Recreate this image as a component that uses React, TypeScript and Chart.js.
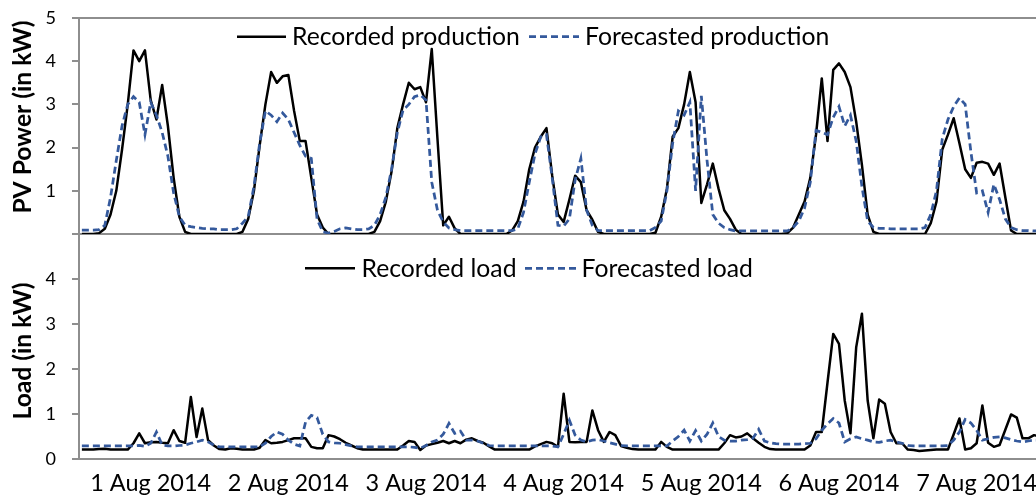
import React, { useEffect, useRef } from 'react';
import { Chart, registerables } from 'chart.js';

Chart.register(...registerables);

// ---------------- data ----------------
const DAY_LABELS = ['1 Aug 2014', '2 Aug 2014', '3 Aug 2014', '4 Aug 2014', '5 Aug 2014', '6 Aug 2014', '7 Aug 2014'];
const HOURS_PER_DAY = 24;
const CATEGORIES: string[] = DAY_LABELS.flatMap((d) =>
  Array.from({ length: HOURS_PER_DAY }, (_, h) => `${d} ${String(h).padStart(2, '0')}:00`)
);

const PV_RECORDED = [
  0, 0, 0, 0.02, 0.12, 0.45, 1.0, 1.95, 3.0, 4.25, 4.0, 4.25, 3.1, 2.65, 3.45, 2.5, 1.3, 0.4, 0.05, 0, 0, 0, 0, 0,
  0, 0, 0, 0, 0.05, 0.35, 1.0, 2.05, 3.0, 3.75, 3.5, 3.65, 3.68, 2.85, 2.15, 2.15, 1.3, 0.45, 0.15, 0, 0, 0, 0, 0,
  0, 0, 0, 0.05, 0.3, 0.75, 1.45, 2.45, 3.0, 3.5, 3.35, 3.4, 3.05, 4.28, 2.2, 0.2, 0.4, 0.13, 0, 0, 0, 0, 0, 0,
  0, 0, 0, 0.08, 0.3, 0.75, 1.5, 2.0, 2.25, 2.45, 1.35, 0.45, 0.28, 0.8, 1.35, 1.2, 0.55, 0.33, 0.05, 0, 0, 0, 0, 0,
  0, 0, 0, 0, 0.03, 0.4, 1.05, 2.25, 2.45, 3.0, 3.75, 3.05, 0.72, 1.15, 1.63, 1.05, 0.55, 0.35, 0.1, 0, 0, 0, 0, 0,
  0, 0, 0, 0.02, 0.15, 0.45, 0.75, 1.3, 2.3, 3.6, 2.15, 3.8, 3.95, 3.75, 3.4, 2.6, 1.6, 0.45, 0.05, 0, 0, 0, 0, 0,
  0, 0, 0, 0, 0.25, 0.75, 1.95, 2.3, 2.68, 2.1, 1.5, 1.3, 1.65, 1.67, 1.63, 1.37, 1.63, 0.85, 0.08, 0, 0, 0, 0, 0,
];

const PV_FORECAST = [
  0.09, 0.09, 0.09, 0.1, 0.2, 0.85, 1.7, 2.5, 3.0, 3.18, 3.05, 2.3, 3.05, 2.75, 2.35, 1.8, 0.95, 0.4, 0.2, 0.17, 0.15, 0.13, 0.12, 0.12,
  0.1, 0.1, 0.1, 0.12, 0.25, 0.4, 1.1, 2.1, 2.85, 2.75, 2.6, 2.8, 2.65, 2.35, 2.05, 1.8, 1.75, 0.35, 0.05, 0.02, 0.06, 0.12, 0.14, 0.12,
  0.1, 0.1, 0.12, 0.2, 0.45, 0.85, 1.5, 2.35, 2.87, 3.0, 3.18, 3.22, 3.1, 1.2, 0.55, 0.28, 0.14, 0.1, 0.08, 0.08, 0.08, 0.08, 0.08, 0.08,
  0.08, 0.08, 0.08, 0.08, 0.12, 0.5, 1.2, 1.85, 2.25, 2.3, 1.3, 0.2, 0.18, 0.35, 1.25, 1.75, 0.55, 0.2, 0.08, 0.08, 0.08, 0.08, 0.08, 0.08,
  0.08, 0.08, 0.08, 0.08, 0.15, 0.3, 1.0, 2.1, 2.85, 2.75, 3.05, 1.0, 3.2, 1.7, 0.45, 0.25, 0.15, 0.1, 0.07, 0.07, 0.07, 0.07, 0.07, 0.07,
  0.07, 0.07, 0.07, 0.07, 0.15, 0.3, 0.6, 1.2, 2.4, 2.35, 2.3, 2.7, 2.95, 2.5, 2.75, 2.15, 1.1, 0.3, 0.15, 0.13, 0.13, 0.12, 0.12, 0.12,
  0.12, 0.12, 0.12, 0.15, 0.45, 1.0, 2.2, 2.65, 2.95, 3.15, 3.0, 1.9, 0.95, 1.0, 0.5, 1.15, 0.8, 0.35, 0.15, 0.1, 0.08, 0.08, 0.07, 0.07,
];

const LOAD_RECORDED = [
  0.21, 0.21, 0.21, 0.22, 0.23, 0.21, 0.21, 0.21, 0.21, 0.35, 0.57, 0.35, 0.37, 0.38, 0.36, 0.35, 0.64, 0.4, 0.36, 1.38, 0.49, 1.12, 0.42, 0.3,
  0.22, 0.21, 0.24, 0.23, 0.21, 0.21, 0.21, 0.25, 0.42, 0.35, 0.36, 0.38, 0.42, 0.46, 0.46, 0.46, 0.27, 0.24, 0.24, 0.53, 0.5, 0.44, 0.36, 0.3,
  0.24, 0.21, 0.21, 0.21, 0.21, 0.21, 0.21, 0.21, 0.3, 0.4, 0.38, 0.2, 0.3, 0.33, 0.36, 0.4, 0.35, 0.4, 0.35, 0.43, 0.46, 0.4, 0.36, 0.28,
  0.21, 0.21, 0.21, 0.21, 0.21, 0.21, 0.21, 0.28, 0.33, 0.38, 0.35, 0.27, 1.45, 0.38, 0.37, 0.38, 0.38, 1.08, 0.64, 0.38, 0.6, 0.53, 0.29, 0.25,
  0.22, 0.21, 0.21, 0.21, 0.21, 0.38, 0.27, 0.21, 0.21, 0.21, 0.21, 0.21, 0.21, 0.21, 0.21, 0.21, 0.35, 0.53, 0.48, 0.5, 0.57, 0.46, 0.36, 0.27,
  0.22, 0.21, 0.21, 0.21, 0.21, 0.21, 0.21, 0.3, 0.6, 0.6, 1.7, 2.78, 2.56, 1.3, 0.57, 2.48, 3.23, 1.3, 0.46, 1.32, 1.23, 0.6, 0.35, 0.35,
  0.21, 0.2, 0.18, 0.19, 0.2, 0.21, 0.21, 0.21, 0.55, 0.9, 0.21, 0.24, 0.35, 1.19, 0.36, 0.27, 0.31, 0.65, 0.99, 0.92, 0.46, 0.46, 0.53, 0.5,
];

const LOAD_FORECAST = [
  0.29, 0.29, 0.29, 0.29, 0.29, 0.29, 0.29, 0.29, 0.29, 0.29, 0.3, 0.28, 0.35, 0.6, 0.31, 0.29, 0.29, 0.3, 0.31, 0.35, 0.38, 0.42, 0.38, 0.31,
  0.27, 0.27, 0.27, 0.27, 0.27, 0.27, 0.27, 0.27, 0.35, 0.5, 0.6, 0.55, 0.42, 0.33, 0.29, 0.82, 0.97, 0.92, 0.55, 0.38, 0.36, 0.35, 0.32, 0.29,
  0.27, 0.27, 0.27, 0.27, 0.27, 0.27, 0.27, 0.27, 0.27, 0.27, 0.26, 0.24, 0.3, 0.38, 0.42, 0.55, 0.79, 0.57, 0.62, 0.42, 0.42, 0.4, 0.35, 0.3,
  0.29, 0.29, 0.29, 0.29, 0.29, 0.29, 0.29, 0.29, 0.29, 0.29, 0.29, 0.27, 0.55, 0.86, 0.53, 0.42, 0.38, 0.42, 0.43, 0.4, 0.36, 0.33, 0.3, 0.29,
  0.29, 0.29, 0.29, 0.29, 0.29, 0.29, 0.29, 0.4, 0.5, 0.64, 0.4, 0.63, 0.4, 0.55, 0.8, 0.5, 0.42, 0.4, 0.4, 0.42, 0.43, 0.46, 0.66, 0.4,
  0.36, 0.34, 0.33, 0.33, 0.33, 0.33, 0.34, 0.35, 0.45, 0.64, 0.78, 0.9, 0.8, 0.38, 0.45, 0.49, 0.45, 0.42, 0.38, 0.37, 0.4, 0.42, 0.38, 0.35,
  0.3, 0.29, 0.29, 0.29, 0.29, 0.29, 0.29, 0.3, 0.42, 0.6, 0.88, 0.8, 0.64, 0.42, 0.45, 0.48, 0.49, 0.47, 0.43, 0.4, 0.38, 0.4, 0.42, 0.42,
];

const PV_SERIES_LABELS = ['Recorded production', 'Forecasted production'];
const LOAD_SERIES_LABELS = ['Recorded load', 'Forecasted load'];
const PV_TITLE = 'PV Power (in kW)';
const LOAD_TITLE = 'Load (in kW)';

// ---------------- style / layout ----------------
const FONT = 'Lato, "Liberation Sans", sans-serif';
const GRAY = '#8e8e8e';
const BLUE = '#34599c';
const CANVAS_W = 1050;
const AXIS_W = 79;
const PLOT_RIGHT = 1042.6;

function fitSize(text: string, width: number, weight = 'normal') {
  const c = document.createElement('canvas').getContext('2d')!;
  c.font = `${weight} 100px ${FONT}`;
  return (100 * width) / c.measureText(text).width;
}

type Overlay = {
  title: string;
  titleX: number;
  titleY: number;
  legendY: number;
  items: { ds: number; x0: number; x1: number; tx: number }[];
};

function overlayPlugin(spec: Overlay, titleSize: number, legendSize: number) {
  return {
    id: 'overlay',
    afterDraw(chart: any) {
      const ctx = chart.ctx as CanvasRenderingContext2D;
      ctx.save();
      ctx.translate(spec.titleX, spec.titleY);
      ctx.rotate(-Math.PI / 2);
      ctx.font = `bold ${titleSize}px ${FONT}`;
      ctx.fillStyle = '#000';
      ctx.textAlign = 'center';
      ctx.textBaseline = 'middle';
      ctx.fillText(spec.title, 0, 0);
      ctx.restore();
      spec.items.forEach((it) => {
        const ds = chart.data.datasets[it.ds];
        ctx.save();
        ctx.strokeStyle = ds.borderColor;
        ctx.lineWidth = ds.borderWidth;
        ctx.setLineDash(ds.borderDash || []);
        ctx.beginPath();
        ctx.moveTo(it.x0, spec.legendY);
        ctx.lineTo(it.x1, spec.legendY);
        ctx.stroke();
        ctx.setLineDash([]);
        ctx.font = `${legendSize}px ${FONT}`;
        ctx.fillStyle = '#000';
        ctx.textAlign = 'left';
        ctx.textBaseline = 'alphabetic';
        ctx.fillText(ds.label, it.tx, spec.legendY + 8.3);
        ctx.restore();
      });
    },
  };
}

function makeConfig(opts: {
  labels: string[];
  series: number[][];
  names: string[];
  padTop: number;
  xHeight: number;
  showX: boolean;
  hideTick: number;
  topLine: boolean;
  sizes: { tick: number; x: number; title: number; legend: number };
  overlay: Overlay;
}) {
  const { sizes } = opts;
  return {
    type: 'line' as const,
    data: {
      labels: opts.labels,
      datasets: [
        {
          label: opts.names[0],
          data: opts.series[0],
          borderColor: '#000',
          borderWidth: 2.5,
          pointRadius: 0,
          tension: 0,
          fill: false,
          borderJoinStyle: 'round' as const,
          order: 1,
        },
        {
          label: opts.names[1],
          data: opts.series[1],
          borderColor: BLUE,
          borderWidth: 2.75,
          borderDash: [7, 4],
          pointRadius: 0,
          tension: 0,
          fill: false,
          order: 0,
        },
      ],
    },
    options: {
      responsive: false,
      animation: false as const,
      devicePixelRatio: 1,
      layout: { autoPadding: false, padding: { left: 0, right: CANVAS_W - PLOT_RIGHT, top: opts.padTop, bottom: 0 } },
      plugins: { legend: { display: false }, tooltip: { enabled: false }, title: { display: false } },
      events: [],
      scales: {
        x: {
          type: 'category' as const,
          offset: true,
          grid: { display: false, drawTicks: false },
          border: { display: true, color: GRAY, width: 2 },
          ticks: {
            display: opts.showX,
            autoSkip: false,
            maxRotation: 0,
            minRotation: 0,
            padding: 10,
            color: '#000',
            font: { family: FONT, size: sizes.x },
            callback: (v: number) => DAY_LABELS[Math.floor(v / HOURS_PER_DAY)],
          },
          afterBuildTicks: (s: any) => {
            s.ticks = s.ticks.filter((t: any) => t.value % HOURS_PER_DAY === HOURS_PER_DAY / 2);
          },
          afterFit: (s: any) => {
            s.height = opts.xHeight;
            s.paddingLeft = 0;
            s.paddingRight = 0;
          },
        },
        y: {
          min: 0,
          max: 5,
          ticks: {
            stepSize: 1,
            padding: 16,
            color: '#000',
            font: { family: FONT, size: sizes.tick },
            callback: (v: number) => (v === opts.hideTick ? '' : String(v)),
          },
          grid: {
            drawOnChartArea: opts.topLine,
            color: (c: any) => (c.tick && c.tick.value === 5 ? GRAY : 'rgba(0,0,0,0)'),
            tickColor: GRAY,
            tickLength: 7,
            lineWidth: 2,
          },
          border: { display: true, color: GRAY, width: 2 },
          afterFit: (s: any) => {
            s.width = AXIS_W;
            s.paddingTop = 0;
            s.paddingBottom = 0;
          },
        },
      },
    },
    plugins: [overlayPlugin(opts.overlay, sizes.title, sizes.legend)],
  };
}

export default function App() {
  const topRef = useRef<HTMLCanvasElement>(null);
  const botRef = useRef<HTMLCanvasElement>(null);

  useEffect(() => {
    const sizes = {
      legend: fitSize(PV_SERIES_LABELS[0], 228),
      x: fitSize(DAY_LABELS[0], 121),
      title: fitSize(PV_TITLE, 193, 'bold'),
      tick: 0,
    };
    sizes.tick = sizes.x * 0.77;

    const top = new Chart(
      topRef.current!,
      makeConfig({
        labels: CATEGORIES,
        series: [PV_RECORDED, PV_FORECAST],
        names: PV_SERIES_LABELS,
        padTop: 18,
        xHeight: 6,
        showX: false,
        hideTick: 0,
        topLine: true,
        sizes,
        overlay: {
          title: PV_TITLE,
          titleX: 23,
          titleY: 117,
          legendY: 36.7,
          items: [
            { ds: 0, x0: 237, x1: 286, tx: 292 },
            { ds: 1, x0: 529, x1: 579, tx: 585 },
          ],
        },
      }) as any
    );
    const bot = new Chart(
      botRef.current!,
      makeConfig({
        labels: CATEGORIES,
        series: [LOAD_RECORDED, LOAD_FORECAST],
        names: LOAD_SERIES_LABELS,
        padTop: 234,
        xHeight: 39,
        showX: true,
        hideTick: 5,
        topLine: false,
        sizes,
        overlay: {
          title: LOAD_TITLE,
          titleX: 23,
          titleY: 351,
          legendY: 268.3,
          items: [
            { ds: 0, x0: 305, x1: 355, tx: 361.5 },
            { ds: 1, x0: 525, x1: 577, tx: 581.5 },
          ],
        },
      }) as any
    );
    return () => {
      top.destroy();
      bot.destroy();
    };
  }, []);

  return (
    <div
      style={{
        position: 'fixed',
        left: 0,
        top: 0,
        width: 1036,
        height: 498,
        overflow: 'hidden',
        background: '#fff',
      }}
    >
      <canvas
        ref={topRef}
        width={CANVAS_W}
        height={240}
        style={{ position: 'absolute', left: 0, top: 0, width: CANVAS_W, height: 240 }}
      />
      <canvas
        ref={botRef}
        width={CANVAS_W}
        height={498}
        style={{ position: 'absolute', left: 0, top: 0, width: CANVAS_W, height: 498 }}
      />
    </div>
  );
}
